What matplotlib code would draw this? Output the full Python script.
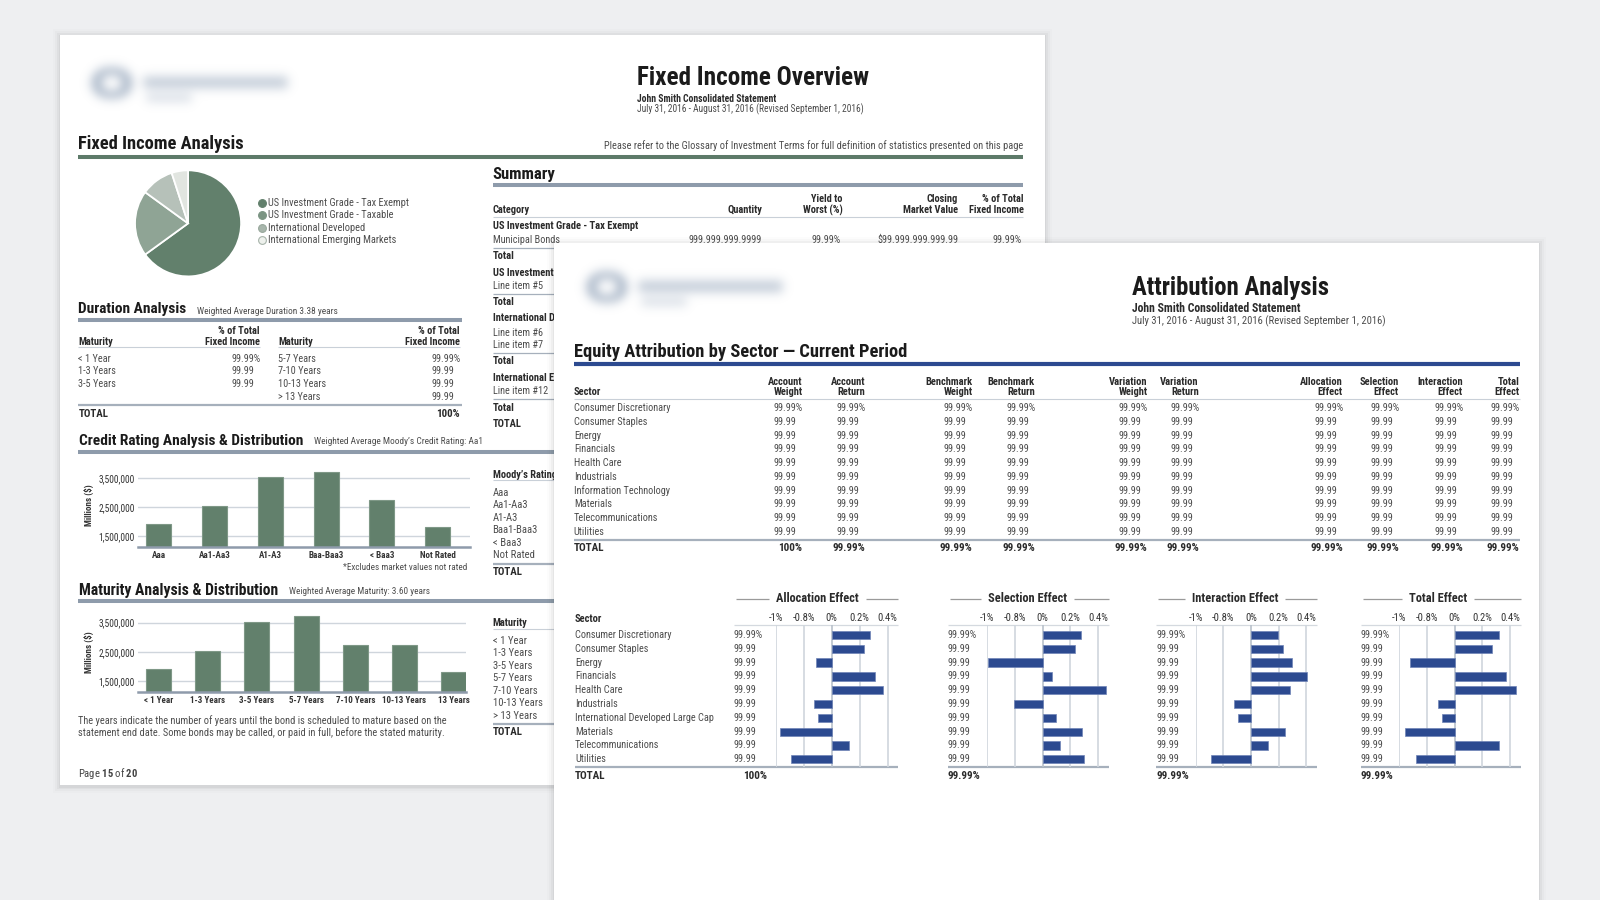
import numpy as np
import matplotlib
matplotlib.use("Agg")
import matplotlib.pyplot as plt
from matplotlib import font_manager as fm
from matplotlib.font_manager import FontProperties
from matplotlib.textpath import TextPath
from matplotlib.patches import Rectangle

# ---------------- data ----------------
pie_labels = ["US Investment Grade - Tax Exempt", "US Investment Grade - Taxable",
              "International Developed", "International Emerging Markets"]
pie_values = [65, 20, 10, 5]

credit_labels = ["Aaa", "Aa1-Aa3", "A1-A3", "Baa-Baa3", "< Baa3", "Not Rated"]
credit_values = [1910000, 2530000, 3520000, 3720000, 2740000, 1820000]

maturity_labels = ["< 1 Year", "1-3 Years", "3-5 Years", "5-7 Years", "7-10 Years", "10-13 Years", "13 Years"]
maturity_values = [1910000, 2540000, 3510000, 3710000, 2730000, 2730000, 1810000]
money_ticks = [1500000, 2500000, 3500000]

duration_left = ["< 1 Year", "1-3 Years", "3-5 Years"]
duration_left_vals = ["99.99%", "99.99", "99.99"]
duration_right = ["5-7 Years", "7-10 Years", "10-13 Years", "> 13 Years"]
duration_right_vals = ["99.99%", "99.99", "99.99", "99.99"]

summary_cols = [("", "Quantity"), ("Yield to", "Worst (%)"), ("Closing", "Market Value"), ("% of Total", "Fixed Income")]
summary_first_vals = ["999.999.999.9999", "99.99%", "$99.999.999.999.99", "99.99%"]
summary_labels = ["US Investment Grade - Tax Exempt", "Municipal Bonds", "Total",
                  "US Investment Grade - Taxable", "Line item #5", "Total",
                  "International Developed", "Line item #6", "Line item #7", "Total",
                  "International Emerging Markets", "Line item #12", "Total", "TOTAL"]
summary_bold = [1, 0, 1, 1, 0, 1, 1, 0, 0, 1, 1, 0, 1, 1]

moodys_rows = ["Aaa", "Aa1-Aa3", "A1-A3", "Baa1-Baa3", "< Baa3", "Not Rated"]
maturity_rows = ["< 1 Year", "1-3 Years", "3-5 Years", "5-7 Years", "7-10 Years", "10-13 Years", "> 13 Years"]

sectors = ["Consumer Discretionary", "Consumer Staples", "Energy", "Financials", "Health Care",
           "Industrials", "Information Technology", "Materials", "Telecommunications", "Utilities"]
table_cols = [("Account", "Weight"), ("Account", "Return"), ("Benchmark", "Weight"), ("Benchmark", "Return"),
              ("Variation", "Weight"), ("Variation", "Return"), ("Allocation", "Effect"),
              ("Selection", "Effect"), ("Interaction", "Effect"), ("Total", "Effect")]
table_first = "99.99%"
table_other = "99.99"
table_totals = ["100%", "99.99%", "99.99%", "99.99%", "99.99%", "99.99%", "99.99%", "99.99%", "99.99%", "99.99%"]

effect_sectors = ["Consumer Discretionary", "Consumer Staples", "Energy", "Financials", "Health Care",
                  "Industrials", "International Developed Large Cap", "Materials", "Telecommunications", "Utilities"]
effect_titles = ["Allocation Effect", "Selection Effect", "Interaction Effect", "Total Effect"]
effect_ticks = [-0.4, -0.2, 0.0, 0.2, 0.4]
effect_tick_labels = ["-1%", "-0.8%", "0%", "0.2%", "0.4%"]
allocation_effect = [0.274, 0.229, -0.114, 0.312, 0.369, -0.124, -0.095, -0.369, 0.124, -0.288]
selection_effect = [0.280, 0.237, -0.391, 0.069, 0.457, -0.209, 0.097, 0.286, 0.129, 0.303]
interaction_effect = [0.197, 0.231, 0.300, 0.409, 0.280, -0.123, -0.094, 0.249, 0.123, -0.291]
total_effect = [0.320, 0.269, -0.320, 0.369, 0.440, -0.123, -0.094, -0.363, 0.317, -0.283]
effect_first = "99.99%"
effect_other = "99.99"
effect_totals = ["100%", "99.99%", "99.99%", "99.99%"]

# ---------------- fonts ----------------
_names = {f.name for f in fm.fontManager.ttflist}
FONT = next((f for f in ["Liberation Sans Narrow", "Roboto Condensed", "Lato", "Roboto", "DejaVu Sans"]
             if f in _names), "DejaVu Sans")
plt.rcParams["font.family"] = [FONT, "DejaVu Sans"]
plt.rcParams["mathtext.fontset"] = "custom"
plt.rcParams["mathtext.rm"] = FONT
plt.rcParams["mathtext.bf"] = FONT + ":bold"

W, H = 1568.0, 882.0
SC = 1600.0 / W


def _w10(s, weight):
    tp = TextPath((0, 0), s, size=10, prop=FontProperties(family=FONT, weight=weight))
    return tp.get_extents().width


def fit(s, width, weight="normal"):
    return 10.0 * width * SC * 0.72 / _w10(s, weight)


def tw(s, size, weight="normal"):
    return _w10(s, weight) * size / 10.0 / 0.72 / SC


DARK = "#1b1b1b"
HEADC = "#2b2b2b"
BODYC = "#4d4d4d"
GREEN = "#62806c"
RULE = "#8e9bab"
RULE2 = "#a6b0bc"
THIN = "#c9d0d8"
NAVY = "#2c4a90"

fig = plt.figure(figsize=(16, 9), dpi=100)
fig.patch.set_facecolor("#eeeff1")
ax = fig.add_axes([0, 0, 1, 1])
ax.set_xlim(0, W)
ax.set_ylim(H, 0)
ax.axis("off")


def T(x, y, s, size=None, w=None, weight="normal", ha="left", va="center", color=BODYC, z=3, **kw):
    if size is None:
        size = fit(s, w, weight)
    return ax.text(x, y, s, fontsize=size, fontweight=weight, ha=ha, va=va, color=color, zorder=z, **kw)


def L(x0, x1, y, lw, color, z=3):
    ax.plot([x0, x1], [y, y], color=color, lw=lw, solid_capstyle="butt", zorder=z)


def page(x0, y0, x1, y1, z):
    for d, a in [(7, 0.012), (5, 0.02), (3, 0.03), (1.5, 0.04)]:
        ax.add_patch(Rectangle((x0 - d, y0 - d + 1.5), x1 - x0 + 2 * d, y1 - y0 + 2 * d,
                               fc="black", alpha=a, lw=0, zorder=z - 0.5))
    ax.add_patch(Rectangle((x0, y0), x1 - x0, y1 - y0, fc="white", lw=0, zorder=z))


def logo(ox, oy, z):
    nx, ny = 240, 70
    xs = np.arange(nx)[None, :] + 0.5 - 20
    ys = np.arange(ny)[:, None] + 0.5 - 15
    m = np.zeros((ny, nx))
    r = np.sqrt(((xs - 22) / 1.3) ** 2 + (ys - 17) ** 2)
    m += ((r > 8) & (r < 15.5)) * 1.0
    m += ((xs > 53) & (xs < 194) & (ys > 11) & (ys < 22)) * 0.7
    m += ((xs > 56) & (xs < 100) & (ys > 28) & (ys < 35)) * 0.5
    k = np.exp(-0.5 * (np.arange(-16, 17) / 5.0) ** 2)
    k /= k.sum()
    m = np.apply_along_axis(lambda v: np.convolve(v, k, "same"), 1, m)
    m = np.apply_along_axis(lambda v: np.convolve(v, k, "same"), 0, m)
    rgba = np.zeros((ny, nx, 4))
    rgba[..., 0], rgba[..., 1], rgba[..., 2] = 0.55, 0.62, 0.71
    rgba[..., 3] = np.clip(m * 0.75, 0, 1)
    ax.imshow(rgba, extent=[ox - 20, ox - 20 + nx, oy - 15 + ny, oy - 15], origin="upper",
              zorder=z, interpolation="bilinear", aspect="auto")


def inset(x0, y0, x1, y1):
    a = fig.add_axes([x0 / W, 1 - y1 / H, (x1 - x0) / W, (y1 - y0) / H])
    a.patch.set_alpha(0)
    return a


BODY = fit("Consumer Discretionary", 94.7)
HDR1 = fit("Fixed Income", 53.2, "bold")
HDR2 = fit("Benchmark", 46.0, "bold")

# ======================= PAGE 1 =======================
page(59, 34, 1024, 769, 1)
logo(87.6, 65, 2)
T(623.9, 76.8, "Fixed Income Overview", w=225.5, weight="bold", color=DARK)
T(623.9, 96.6, "John Smith Consolidated Statement", w=136, weight="bold", color=HEADC)
T(623.9, 107.5, "July 31, 2016 - August 31, 2016 (Revised September 1, 2016)", w=222, color=BODYC)
T(76.3, 141.4, "Fixed Income Analysis", w=161.4, weight="bold", color=DARK)
T(1002.6, 142.8, "Please refer to the Glossary of Investment Terms for full definition of statistics presented on this page",
  w=409, ha="right", color=BODYC)
L(76.3, 1003, 153.5, 2.9, "#5d7a69")

# pie
pr = 52.5 * SC
pcx, pcy = 184.3 * SC, (H - 218.9) * SC
ap = fig.add_axes([(pcx - pr) / 1600, (pcy - pr) / 900, 2 * pr / 1600, 2 * pr / 900])
ap.pie(pie_values, colors=["#62806c", "#8fa495", "#b6c1b9", "#e1e5e0"], startangle=90, counterclock=False,
       wedgeprops=dict(edgecolor="white", linewidth=1.3))
ap.set_xlim(-1.01, 1.01)
ap.set_ylim(-1.01, 1.01)
ap.axis("off")
LEG = fit("US Investment Grade - Tax Exempt", 137.3)
leg_fc = ["#62806c", "#7b9483", "#a8b6ac", "#eef1ed"]
leg_ec = ["#62806c", "#7b9483", "#98a89c", "#a7b4aa"]
for i, lab in enumerate(pie_labels):
    yy = 199 + 12.1 * i
    ax.plot(257.2, yy, "o", ms=5.6, mfc=leg_fc[i], mec=leg_ec[i], mew=0.8, zorder=3)
    T(263, yy, lab, size=LEG)

# summary (right column, partly covered by page 2)
T(482.7, 171.5, "Summary", w=61, weight="bold", color=DARK)
L(482.7, 1003, 181.3, 2.9, RULE)
T(482.7, 205.8, "Category", size=HDR1, weight="bold", color=HEADC)
sum_right = [746.8, 825.7, 938.4, 1003]
for (l1, l2), xr in zip(summary_cols, sum_right):
    if l1:
        T(xr, 195.3, l1, size=HDR1, weight="bold", ha="right", color=HEADC)
    T(xr, 205.8, l2, size=HDR1, weight="bold", ha="right", color=HEADC)
L(482.7, 1003, 212.3, 0.8, THIN)
sum_y = [221.5, 235.2, 251, 268, 280.5, 296, 312, 326, 338, 354, 370, 383, 400, 416]
for lab, b, yy in zip(summary_labels, summary_bold, sum_y):
    if b:
        T(482.7, yy, lab, size=HDR1 * 1.02, weight="bold", color=HEADC)
    else:
        T(482.7, yy, lab, size=BODY, color=BODYC)
for v, xr in zip(summary_first_vals, [746.8, 823.9, 939.4, 1001.6]):
    T(xr, 235.2, v, size=BODY, ha="right")
for yy in [243.5, 288, 346, 391]:
    L(482.7, 1003, yy, 0.9, RULE2)

# duration analysis
T(76.8, 303.1, "Duration Analysis", w=105, weight="bold", color=DARK)
T(192.7, 305.5, "Weighted Average Duration 3.38 years", w=138, color=BODYC)
L(76.8, 452.4, 313.6, 2.9, RULE)
for xl, xr in [(76.8, 254.8), (272.8, 450.8)]:
    T(xl, 334.8, "Maturity", size=HDR1, weight="bold", color=HEADC)
    T(xr, 324.4, "% of Total", size=HDR1, weight="bold", ha="right", color=HEADC)
    T(xr, 334.8, "Fixed Income", size=HDR1, weight="bold", ha="right", color=HEADC)
    L(xl, xr, 339.7, 0.8, THIN)
pw = tw("99.99%", BODY)
dur_y = [351.8, 363.6, 376.0, 388.7]
for lab, v, yy in zip(duration_left, duration_left_vals, dur_y):
    T(76.8, yy, lab, size=BODY)
    T(254.8 - pw, yy, v, size=BODY)
for lab, v, yy in zip(duration_right, duration_right_vals, dur_y):
    T(272.8, yy, lab, size=BODY)
    T(450.8 - pw, yy, v, size=BODY)
L(76.8, 452.4, 396.9, 1.6, RULE2)
T(76.8, 405.7, "TOTAL", size=HDR1 * 1.05, weight="bold", color=HEADC)
T(450.8, 405.7, "100%", size=HDR1 * 1.05, weight="bold", ha="right", color=HEADC)

# credit rating
T(77.7, 431.9, "Credit Rating Analysis & Distribution", w=220, weight="bold", color=DARK)
T(307.7, 432.8, "Weighted Average Moody\u2019s Credit Rating: Aa1", w=164, color=BODYC)
L(76.3, 1003, 442.6, 2.9, RULE)
T(482.7, 465.5, "Moody\u2019s Rating", size=HDR1, weight="bold", color=HEADC)
L(482.7, 1003, 470.4, 0.8, THIN)
for lab, yy in zip(moodys_rows, [482.8, 495.2, 507.6, 519.4, 532.5, 544.2]):
    T(482.7, yy, lab, size=BODY * 1.03)
L(482.7, 1003, 552.7, 1.6, RULE2)
T(482.7, 560.9, "TOTAL", size=HDR1 * 1.05, weight="bold", color=HEADC)

TICKY = fit("3,500,000", 35)
CATX = fit("Aa1-Aa3", 30.4, "bold")
MILL = fit("Millions ($)", 40.2, "bold")


def green_bars(a, labels, values, width, xlim, ylim):
    a.bar(range(len(values)), values, width=width, color=GREEN, edgecolor="#7f9887", lw=0.8, zorder=3)
    for t in money_ticks:
        a.axhline(t, color="#cfd5dc", lw=1.0, zorder=1)
    a.set_xlim(*xlim)
    a.set_ylim(*ylim)
    for s in ["top", "right", "left"]:
        a.spines[s].set_visible(False)
    a.spines["bottom"].set_color(RULE)
    a.spines["bottom"].set_linewidth(1.8)
    a.spines["bottom"].set_zorder(4)
    a.set_yticks(money_ticks)
    a.set_yticklabels([f"{t:,}" for t in money_ticks], fontsize=TICKY, color="#333333")
    a.set_xticks(range(len(labels)))
    a.set_xticklabels(labels, fontsize=CATX, fontweight="bold", color="#333333")
    a.tick_params(axis="both", length=0)
    a.tick_params(axis="y", pad=2.6)
    a.tick_params(axis="x", pad=2.6)


ac = inset(135.5, 455, 460.6, 536)
green_bars(ac, credit_labels, credit_values, 0.448, (-0.364, 5.58), (1136000, 3970000))
T(87.5, 495, "Millions ($)", size=MILL, weight="bold", rotation=90, ha="center", color="#333333")
T(457.6, 556.6, "*Excludes market values not rated", w=120.9, ha="right", color=BODYC)

# maturity
T(77.7, 578.2, "Maturity Analysis & Distribution", w=193.5, weight="bold", color=DARK)
T(283.5, 579.8, "Weighted Average Maturity: 3.60 years", w=138, color=BODYC)
L(76.3, 1003, 589, 2.9, RULE)
T(482.7, 610.9, "Maturity", size=HDR1, weight="bold", color=HEADC)
L(482.7, 1003, 616.8, 0.8, THIN)
for lab, yy in zip(maturity_rows, [627.9, 640.3, 652.7, 664.8, 676.9, 689.3, 701.7]):
    T(482.7, yy, lab, size=BODY * 1.03)
L(482.7, 1003, 709.5, 1.6, RULE2)
T(482.7, 717.7, "TOTAL", size=HDR1 * 1.05, weight="bold", color=HEADC)

am = inset(135.5, 598, 456.7, 678.2)
green_bars(am, maturity_labels, maturity_values, 0.508, (-0.413, 6.25), (1135000, 3920000))
T(87.5, 638.6, "Millions ($)", size=MILL, weight="bold", rotation=90, ha="center", color="#333333")
NOTE = fit("The years indicate the number of years until the bond is scheduled to mature based on the", 361)
T(76.8, 706.3, "The years indicate the number of years until the bond is scheduled to mature based on the", size=NOTE)
T(76.8, 717.7, "statement end date. Some bonds may be called, or paid in full, before the stated maturity.", size=NOTE)
T(76.8, 757.9, r"Page $\mathbf{15}$ of $\mathbf{20}$", w=56.5, color="#444444")

# ======================= PAGE 2 =======================
page(543, 238, 1508, 900, 10)
logo(573, 264.6, 11)
Z = 12
T(1109.3, 282.6, "Attribution Analysis", w=193, weight="bold", color=DARK, z=Z)
T(1109.3, 302.2, "John Smith Consolidated Statement", w=165, weight="bold", color=HEADC, z=Z)
T(1109.3, 314.6, "July 31, 2016 - August 31, 2016 (Revised September 1, 2016)", w=249, color=BODYC, z=Z)
T(562.3, 344.5, "Equity Attribution by Sector \u2014 Current Period", w=326.5, weight="bold", color=DARK, z=Z)
L(562.3, 1490, 357, 3.0, NAVY, z=Z)

col_right = [786.5, 847.7, 953, 1014.3, 1124.6, 1174.8, 1316, 1371, 1433.7, 1489]
T(562.3, 383.9, "Sector", size=HDR2, weight="bold", color=HEADC, z=Z)
for (l1, l2), xr in zip(table_cols, col_right):
    T(xr, 374, l1, size=HDR2, weight="bold", ha="right", color=HEADC, z=Z)
    T(xr, 383.9, l2, size=HDR2, weight="bold", ha="right", color=HEADC, z=Z)
L(562.3, 1490, 391.4, 0.8, THIN, z=Z)
row_y = [400.2, 413.9, 427.3, 440.4, 454.1, 467.8, 481.2, 494.2, 508.0, 521.4]
for i, (sec, yy) in enumerate(zip(sectors, row_y)):
    T(562.3, yy, sec, size=BODY, z=Z)
    for xr in col_right:
        T(xr - pw, yy, table_first if i == 0 else table_other, size=BODY, z=Z)
L(562.3, 1490, 529.2, 1.6, RULE2, z=Z)
T(562.3, 536.7, "TOTAL", size=HDR2 * 1.05, weight="bold", color=HEADC, z=Z)
for v, xr in zip(table_totals, col_right):
    T(xr, 536.7, v, size=HDR2 * 1.05, weight="bold", ha="right", color=HEADC, z=Z)

# effect panels
panel_x0 = [760.2, 967.5, 1171.6, 1371.4]
panel_scale = [137.0, 135.5, 135.6, 135.6]
value_x = [719.0, 928.7, 1133.3, 1333.5]
title_cx = [801.0, 1007.0, 1210.3, 1409.0]
effects = [allocation_effect, selection_effect, interaction_effect, total_effect]
XR = (-0.4, 0.477)
TOP, BOT = 612.5, 751.3
row0, dy = 622.3, 13.53
TICKF = fit("-0.8%", 21.6)
PT = fit("Allocation Effect", 81.3, "bold")

T(563.5, 607, "Sector", size=HDR2, weight="bold", color=HEADC, z=Z)
for i, sec in enumerate(effect_sectors):
    T(563.5, row0 + dy * i, sec, size=BODY, z=Z)
T(563.5, 760.5, "TOTAL", size=HDR2 * 1.05, weight="bold", color=HEADC, z=Z)

for k in range(4):
    x0 = panel_x0[k]
    x1 = x0 + (XR[1] - XR[0]) * panel_scale[k]
    vx = value_x[k]
    hw = tw(effect_titles[k], PT, "bold") / 2
    T(title_cx[k], 587, effect_titles[k], size=PT, weight="bold", ha="center", color=HEADC, z=Z)
    L(vx + 2, title_cx[k] - hw - 7, 587.5, 0.9, "#9a9a9a", z=Z)
    L(title_cx[k] + hw + 7, x1, 587.5, 0.9, "#9a9a9a", z=Z)
    L(vx, x1, TOP, 0.9, "#d4d9df", z=Z)
    L(563.5 if k == 0 else vx, x1, BOT, 1.6, RULE2, z=Z)
    for i in range(10):
        T(vx, row0 + dy * i, effect_first if i == 0 else effect_other, size=BODY, z=Z)
    if k == 0:
        T(751.3, 760.5, effect_totals[k], size=HDR2 * 1.05, weight="bold", ha="right", color=HEADC, z=Z)
    else:
        T(vx, 760.5, effect_totals[k], size=HDR2 * 1.05, weight="bold", color=HEADC, z=Z)
    a = inset(x0, TOP, x1, BOT)
    for t in effect_ticks:
        a.axvline(t, color="#b9c1cb" if t == 0 else "#d0d6dd", lw=1.2, zorder=1)
    a.barh(range(10), effects[k], height=0.6, color=NAVY, edgecolor="#6f83b6", lw=0.5, zorder=3)
    a.set_xlim(*XR)
    a.set_ylim(9.53, -0.724)
    for s in a.spines.values():
        s.set_visible(False)
    a.set_yticks([])
    a.xaxis.tick_top()
    a.set_xticks(effect_ticks)
    a.set_xticklabels(effect_tick_labels, fontsize=TICKF, color="#333333")
    a.tick_params(axis="x", length=0, pad=1.5)

ax.set_xlim(0, W)
ax.set_ylim(H, 0)
fig.savefig("out.png", dpi=100, facecolor=fig.get_facecolor())
